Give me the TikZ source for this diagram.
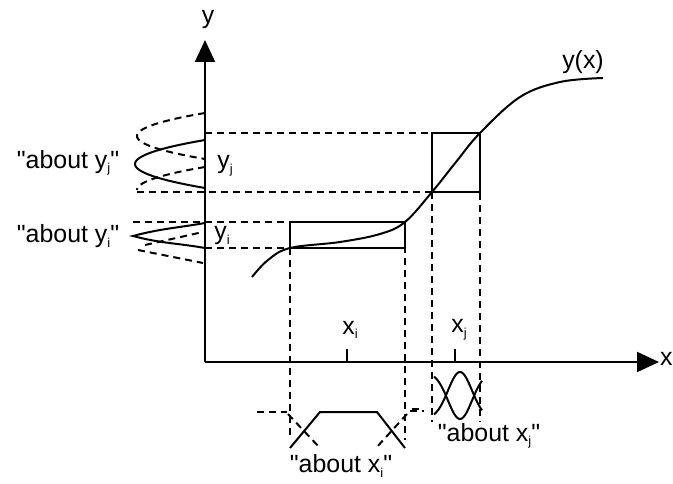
\documentclass[tikz,border=0pt]{standalone}
\usepackage{fontspec}
\setmainfont{Liberation Sans}
\usetikzlibrary{arrows.meta}
\newcommand{\lowsub}[1]{\raisebox{-0.35ex}{\fontsize{13}{13}\selectfont #1}}
\begin{document}
\begin{tikzpicture}[x=1bp,y=-1bp,
  ln/.style={line width=2bp},
  dsh/.style={line width=2bp,dash pattern=on 7bp off 5bp},
  lbl/.style={font=\fontsize{25}{27}\selectfont,inner sep=0pt},
  tri/.style={-{Triangle[length=22bp,width=20bp]}}]
\useasboundingbox (0,0) rectangle (673,484);
% axes
\coordinate (O) at (205,362);
\coordinate (Ytip) at (205,40);
\coordinate (Xtip) at (659,362);
\draw[ln,tri] (O) -- (Ytip);
\draw[ln,tri] (O) -- (Xtip);
\node[lbl] (ylab) at (208,20) {y};
\node[lbl,anchor=west] (xlab) at (660,359) {x};
% ticks
\draw[ln] (347,362) -- (347,349);
\draw[ln] (455,362) -- (455,349);
\node[lbl] (xi) at (350,330) {x\lowsub{i}};
\node[lbl] (xj) at (459,330) {x\lowsub{j}};
\node[lbl] (yj) at (225,166) {y\lowsub{j}};
\node[lbl] (yi) at (222,236) {y\lowsub{i}};
% curve
\draw[ln] plot[smooth,tension=0.6] coordinates {(252,277) (268,260) (290,248) (340,242) (380,234) (405,222) (432,192) (456,162) (480,133) (520,97) (560,82) (603,78)};
\node[lbl] (yx) at (583,62) {y(x)};
% boxes
\draw[ln] (290,222) rectangle (405,248);
\draw[ln] (432,133) rectangle (480,192);
% horizontal projections
\draw[dsh] (205,133) -- (432,133);
\draw[dsh] (137,192) -- (432,192);
\draw[dsh] (133,222) -- (290,222);
\draw[dsh] (205,248) -- (290,248);
% vertical projections
\draw[dsh] (290,248) -- (290,440);
\draw[dsh] (405,222) -- (405,440);
\draw[dsh] (432,192) -- (432,422);
\draw[dsh] (480,133) -- (480,422);
% about y_j
\draw[ln] plot[smooth,domain=140:188,samples=41,variable=\t] ({205-70*(1-((\t-164)/24)^2)},{\t});
\draw[dsh] plot[smooth,domain=113:159,samples=41,variable=\t] ({205-68*(1-((\t-136)/23)^2)},{\t});
\draw[dsh] plot[smooth,domain=167:190,samples=21,variable=\t] ({205-68*(1-((\t-190)/23)^2)},{\t});
% about y_i
\draw[ln] (205,223) to[out=190,in=15] (133,236) to[out=-15,in=170] (205,248);
\draw[dsh] (145,245) -- (203,232);
\draw[dsh] (138,250) -- (203,263);
% about x_i
\draw[ln] (290,448) -- (320,412) -- (377,412) -- (405,448);
\draw[dsh] (257,412) -- (287,412);
\draw[dsh] (410,411) -- (424,411);
\draw[dsh] (288,414) -- (320,448);
\draw[dsh] (407,414) -- (376,448);
% about x_j
\draw[ln] plot[smooth,domain=434:482,samples=41] ({\x},{372+47*exp(-((\x-460)/17)^2)});
\draw[ln] plot[smooth,domain=434:482,samples=41] ({\x},{419-47*exp(-((\x-460)/17)^2)});
\draw[dsh] (412,409) -- (420,409);
% labels
\node[lbl] (ayj) at (68,163) {\textquotedbl about y\lowsub{j}\textquotedbl};
\node[lbl] (ayi) at (68,236) {\textquotedbl about y\lowsub{i}\textquotedbl};
\node[lbl] (axi) at (341,466) {\textquotedbl about x\lowsub{i}\textquotedbl};
\node[lbl] (axj) at (489,436) {\textquotedbl about x\lowsub{j}\textquotedbl};
\end{tikzpicture}
\end{document}
